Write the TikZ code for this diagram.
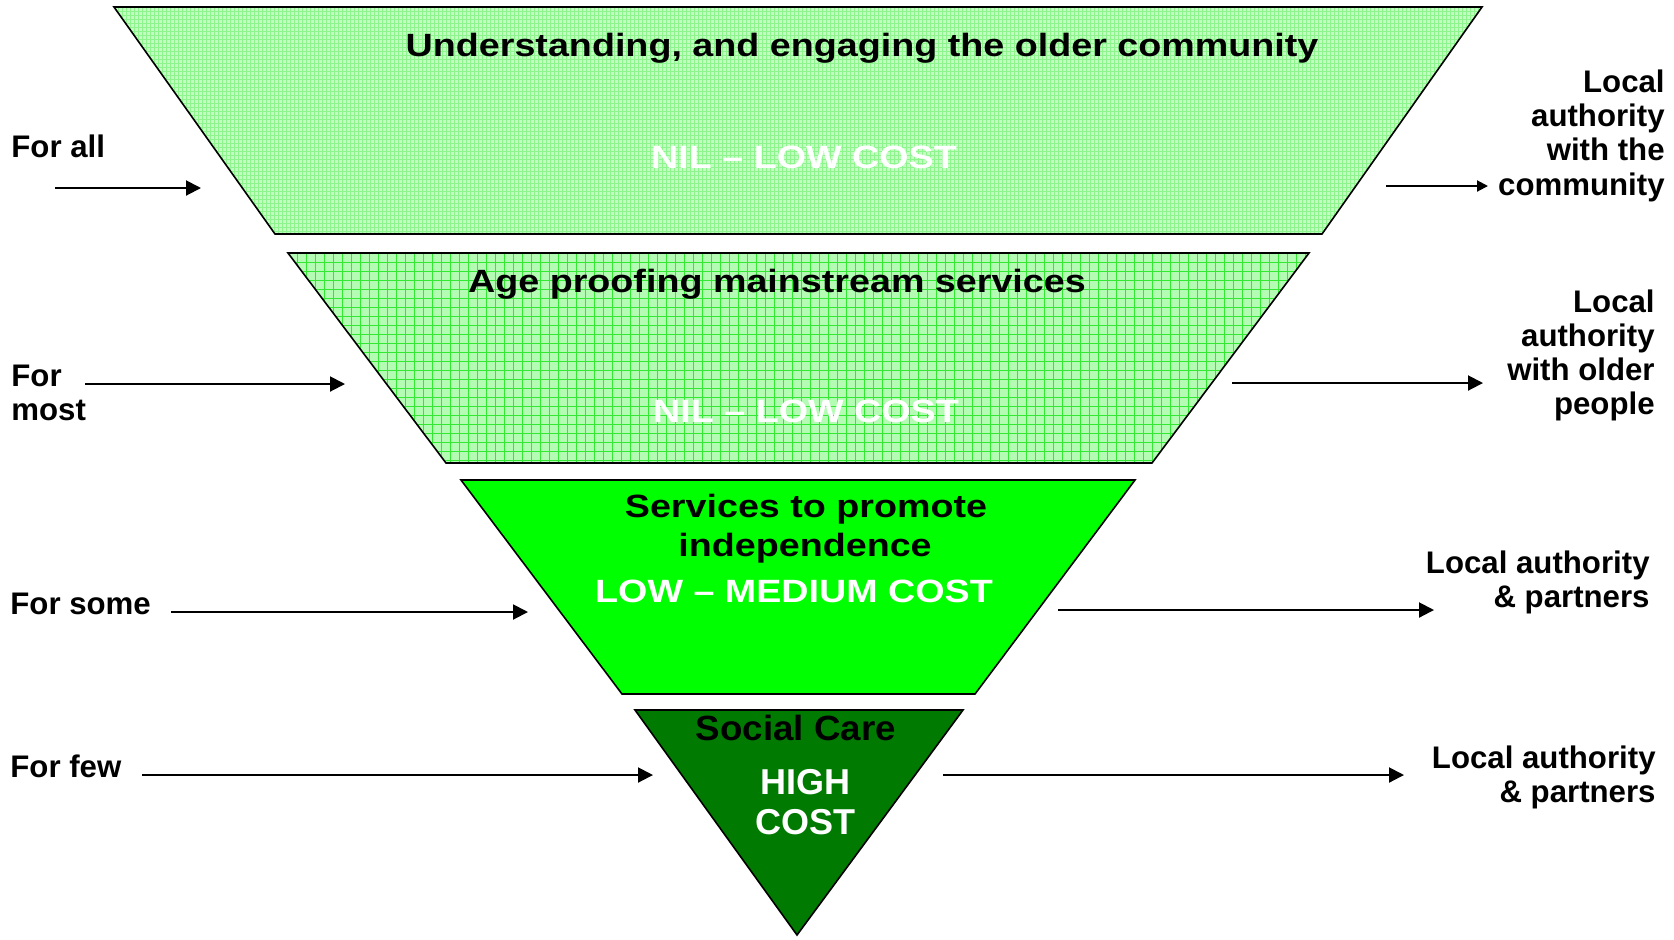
\documentclass[tikz,border=0pt]{standalone}
\usepackage{fontspec}
\usepackage{graphicx}
\setmainfont{Liberation Sans}
\usetikzlibrary{arrows.meta}
\definecolor{tierA}{RGB}{196,252,196}
\definecolor{tierAline}{RGB}{140,245,140}
\definecolor{tierB}{RGB}{180,252,180}
\definecolor{tierBline}{RGB}{50,232,50}
\definecolor{tierC}{RGB}{0,255,0}
\definecolor{tierD}{RGB}{0,122,0}
\newcommand{\stretchtxt}[2][1.17]{\scalebox{#1}[1]{#2}}
\tikzset{
  outline/.style={draw=black, line width=0.8pt, line join=miter},
  lbl/.style={font=\fontsize{15.6}{18}\selectfont\bfseries, inner sep=0pt, text=black},
  intxt/.style={font=\fontsize{16.1}{18}\selectfont\bfseries, inner sep=0pt, anchor=base},
  arr/.style={line width=1pt, -{Triangle[length=7.5pt,width=7.5pt]}},
  arrsmall/.style={line width=1pt, -{Triangle[length=5.5pt,width=5.5pt]}},
  gl/.style={line width=0.5pt}
}
\begin{document}
\begin{tikzpicture}[x=0.5pt,y=-0.5pt]
\useasboundingbox (0,0) rectangle (1674,939);
\fill[white] (0,0) rectangle (1674,939);

% tier 1
\begin{scope}
\clip (114,7) -- (1482,7) -- (1322,234) -- (275,234) -- cycle;
\fill[tierA] (100,0) rectangle (1500,240);
\foreach \i in {114,118,...,1482} \draw[gl,tierAline,line width=0.35pt] (\i,7) -- (\i,234);
\foreach \j in {7,11,...,234} \draw[gl,tierAline,line width=0.35pt] (114,\j) -- (1482,\j);
\end{scope}
\path[outline] (114,7) -- (1482,7) -- (1322,234) -- (275,234) -- cycle;

% tier 2
\begin{scope}
\clip (288,253) -- (1309,253) -- (1152,463) -- (446,463) -- cycle;
\fill[tierB] (280,250) rectangle (1320,470);
\foreach \i in {288,297,...,1309} \draw[gl,tierBline] (\i,253) -- (\i,463);
\foreach \j in {253,262,...,463} \draw[gl,tierBline] (288,\j) -- (1309,\j);
\end{scope}
\path[outline] (288,253) -- (1309,253) -- (1152,463) -- (446,463) -- cycle;

% tier 3
\path[outline, fill=tierC] (461,480) -- (1135,480) -- (975,694) -- (622,694) -- cycle;

% tier 4
\path[outline, fill=tierD] (635,710) -- (963,710) -- (797,935) -- cycle;

% texts inside
\node[intxt] (t1) at (862,56) {\stretchtxt{Understanding, and engaging the older community}};
\node[intxt, text=white] (c1) at (804,168) {\stretchtxt{NIL – LOW COST}};
\node[intxt] (t2) at (777,292) {\stretchtxt{Age proofing mainstream services}};
\node[intxt, text=white] (c2) at (806,422) {\stretchtxt{NIL – LOW COST}};
\node[intxt] (t3a) at (806,517) {\stretchtxt{Services to promote}};
\node[intxt] (t3b) at (805,556) {\stretchtxt{independence}};
\node[intxt, text=white] (c3) at (794,602) {\stretchtxt{LOW – MEDIUM COST}};
\node[intxt, font=\fontsize{17.5}{20}\selectfont\bfseries] (t4) at (796,740) {\stretchtxt[1.05]{Social Care}};
\node[intxt, text=white, font=\fontsize{18}{21}\selectfont\bfseries] (c4a) at (805,794) {HIGH};
\node[intxt, text=white, font=\fontsize{18}{21}\selectfont\bfseries] (c4b) at (805,834) {COST};

% left labels
\node[lbl, anchor=base west] (l1) at (11,157) {For all};
\node[lbl, anchor=base west] (l2a) at (11,386) {For};
\node[lbl, anchor=base west] (l2b) at (11,420) {most};
\node[lbl, anchor=base west] (l3) at (10,614) {For some};
\node[lbl, anchor=base west] (l4) at (10,777) {For few};

% right labels
\node[lbl, anchor=base east] (r1a) at (1665,92) {Local};
\node[lbl, anchor=base east] (r1b) at (1665,126) {authority};
\node[lbl, anchor=base east] (r1c) at (1665,160) {with the};
\node[lbl, anchor=base east] (r1d) at (1665,195) {community};
\node[lbl, anchor=base east] (r2a) at (1655,312) {Local};
\node[lbl, anchor=base east] (r2b) at (1655,346) {authority};
\node[lbl, anchor=base east] (r2c) at (1655,380) {with older};
\node[lbl, anchor=base east] (r2d) at (1655,414) {people};
\node[lbl, anchor=base east] (r3a) at (1650,573) {Local authority};
\node[lbl, anchor=base east] (r3b) at (1650,607) {\& partners};
\node[lbl, anchor=base east] (r4a) at (1656,768) {Local authority};
\node[lbl, anchor=base east] (r4b) at (1656,802) {\& partners};

% arrow coordinates
\coordinate (la1s) at (55,188);   \coordinate (la1e) at (201,188);
\coordinate (la2s) at (85,384);   \coordinate (la2e) at (345,384);
\coordinate (la3s) at (171,612);  \coordinate (la3e) at (528,612);
\coordinate (la4s) at (142,775);  \coordinate (la4e) at (653,775);
\coordinate (ra1s) at (1386,186); \coordinate (ra1e) at (1488,186);
\coordinate (ra2s) at (1232,383); \coordinate (ra2e) at (1483,383);
\coordinate (ra3s) at (1058,610); \coordinate (ra3e) at (1434,610);
\coordinate (ra4s) at (943,775);  \coordinate (ra4e) at (1404,775);

\draw[arr] (la1s) -- (la1e);
\draw[arr] (la2s) -- (la2e);
\draw[arr] (la3s) -- (la3e);
\draw[arr] (la4s) -- (la4e);
\draw[arrsmall] (ra1s) -- (ra1e);
\draw[arr] (ra2s) -- (ra2e);
\draw[arr] (ra3s) -- (ra3e);
\draw[arr] (ra4s) -- (ra4e);
\end{tikzpicture}
\end{document}
